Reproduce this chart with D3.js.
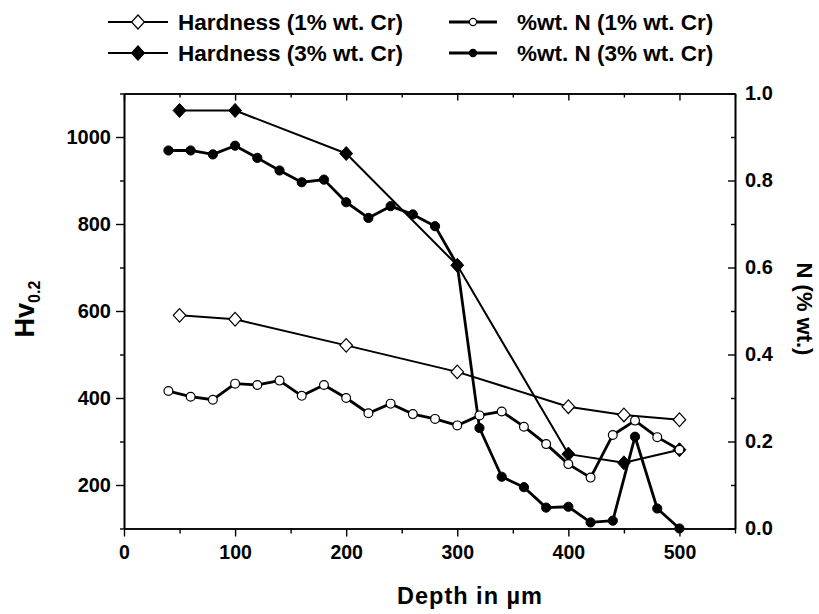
<!DOCTYPE html>
<html>
<head>
<meta charset="utf-8">
<script src="https://cdn.jsdelivr.net/npm/d3@7/dist/d3.min.js"></script>
<style>
  body { margin: 0; background: #fff; }
  text { font-family: "Liberation Sans", Arial, sans-serif; font-weight: bold; fill: #000; }
</style>
</head>
<body>
<script>
// hardness profiles (left axis)
const depthH = [50, 100, 200, 300, 400, 450, 500];
const hard1 = [590, 581, 521, 460, 380, 361, 350];
const hard3 = [1061, 1061, 962, 705, 271, 251, 281];

// nitrogen profiles (right axis)
const depthN = [40, 60, 80, 100, 120, 140, 160, 180, 200, 220, 240, 260,
                280, 300, 320, 340, 360, 380, 400, 420, 440, 460, 480, 500];
const nit1 = [0.316, 0.303, 0.296, 0.333, 0.330, 0.340, 0.305, 0.330, 0.300, 0.265, 0.287, 0.263,
              0.252, 0.237, 0.260, 0.269, 0.234, 0.194, 0.148, 0.117, 0.215, 0.248, 0.210, 0.181];
const nit3 = [0.869, 0.869, 0.860, 0.880, 0.852, 0.823, 0.796, 0.802, 0.750, 0.714, 0.741, 0.722,
              0.695, 0.606, 0.231, 0.119, 0.095, 0.048, 0.050, 0.014, 0.018, 0.211, 0.046, 0.000];

// ticks
const xMajor = [0, 100, 200, 300, 400, 500];
const xMinor = [50, 150, 250, 350, 450, 550];
const hvMajor = [200, 400, 600, 800, 1000];
const hvMinor = [100, 300, 500, 700, 900, 1100];
const nMajor = [0, 0.2, 0.4, 0.6, 0.8, 1.0];
const nMinor = [0.1, 0.3, 0.5, 0.7, 0.9];

const legendLabels = ["Hardness (1% wt. Cr)", "Hardness (3% wt. Cr)",
                      "%wt. N (1% wt. Cr)", "%wt. N (3% wt. Cr)"];

const w = 819, h = 614;
const pLeft = 124, pRight = 735, pTop = 93.5, pBottom = 528.5;

const svg = d3.select("body").append("svg")
  .attr("width", w)
  .attr("height", h);

const x = d3.scaleLinear().domain([0, 550]).range([pLeft, pRight]);
const yL = d3.scaleLinear().domain([100, 1100]).range([pBottom, pTop]);
const yR = d3.scaleLinear().domain([0, 1]).range([pBottom, pTop]);

// axes
function addAxis(axis, tx, ty, fs) {
  const g = svg.append("g")
    .attr("transform", "translate(" + tx + "," + ty + ")")
    .call(axis);
  g.selectAll("path.domain").attr("stroke", "#000").attr("stroke-width", 1.6);
  g.selectAll(".tick line").attr("stroke", "#000").attr("stroke-width", 1.4);
  g.selectAll(".tick text")
    .style("font-family", "'Liberation Sans', Arial, sans-serif")
    .style("font-weight", "bold")
    .style("font-size", (fs || 19) + "px")
    .attr("fill", "#000");
  return g;
}

addAxis(d3.axisBottom(x).tickValues(xMajor).tickSize(8).tickSizeOuter(0)
  .tickPadding(9).tickFormat(d3.format("d")), 0, pBottom, 19.5);
addAxis(d3.axisBottom(x).tickValues(xMinor).tickSize(5).tickSizeOuter(0).tickFormat(""), 0, pBottom);
addAxis(d3.axisTop(x).tickValues(xMajor).tickSize(-7).tickSizeOuter(0).tickFormat(""), 0, pTop);
addAxis(d3.axisTop(x).tickValues(xMinor).tickSize(-4).tickSizeOuter(0).tickFormat(""), 0, pTop);

addAxis(d3.axisLeft(yL).tickValues(hvMajor).tickSize(8).tickSizeOuter(0)
  .tickPadding(5).tickFormat(d3.format("d")), pLeft, 0, 20);
addAxis(d3.axisLeft(yL).tickValues(hvMinor).tickSize(4).tickSizeOuter(0).tickFormat(""), pLeft, 0);

addAxis(d3.axisRight(yR).tickValues(nMajor).tickSize(-7).tickSizeOuter(0)
  .tickPadding(10).tickFormat(d3.format(".1f")), pRight, 0, 20);
addAxis(d3.axisRight(yR).tickValues(nMinor).tickSize(-4).tickSizeOuter(0).tickFormat(""), pRight, 0);

// axis titles
svg.append("text")
  .attr("x", 470).attr("y", 604)
  .attr("text-anchor", "middle")
  .style("font-size", "23.5px")
  .style("letter-spacing", "1px")
  .text("Depth in µm");

const hv = svg.append("text")
  .attr("transform", "translate(34,309) rotate(-90)")
  .attr("text-anchor", "middle")
  .style("font-size", "27px");
hv.append("tspan").text("Hv");
hv.append("tspan").attr("dy", 6).style("font-size", "16px").text("0.2");

svg.append("text")
  .attr("transform", "translate(797,309) rotate(90)")
  .attr("text-anchor", "middle")
  .style("font-size", "22px")
  .text("N (% wt.)");

// markers
function diamond(s) {
  return "M0," + (-s) + "L" + (s * 0.92) + ",0L0," + s + "L" + (-s * 0.92) + ",0Z";
}

function drawSeries(xs, ys, yScale, lineW, marker, filled) {
  const pts = xs.map(function(d, i) { return [x(d), yScale(ys[i])]; });
  svg.append("path")
    .attr("d", d3.line()(pts))
    .attr("fill", "none")
    .attr("stroke", "#000")
    .attr("stroke-width", lineW)
    .attr("stroke-linejoin", "round");
  drawMarkers(svg, pts, marker, filled);
}

function drawMarkers(g, pts, marker, filled) {
  pts.forEach(function(p) {
    if (marker === "diamond") {
      g.append("path")
        .attr("transform", "translate(" + p[0] + "," + p[1] + ")")
        .attr("d", diamond(filled ? 7 : 6.8))
        .attr("fill", filled ? "#000" : "#fff")
        .attr("stroke", "#000")
        .attr("stroke-width", filled ? 1 : 1.2);
    } else {
      g.append("circle")
        .attr("cx", p[0]).attr("cy", p[1])
        .attr("r", filled ? 4.6 : 4.4)
        .attr("fill", filled ? "#000" : "#fff")
        .attr("stroke", "#000")
        .attr("stroke-width", filled ? 1 : 1.2);
    }
  });
}

drawSeries(depthH, hard1, yL, 2, "diamond", false);
drawSeries(depthH, hard3, yL, 2, "diamond", true);
drawSeries(depthN, nit3, yR, 2.8, "circle", true);
drawSeries(depthN, nit1, yR, 2.8, "circle", false);

// legend
const legendItems = [
  {lx: 108, ly: 22, len: 60, tx: 178, marker: "diamond", filled: false, lw: 2},
  {lx: 108, ly: 53, len: 60, tx: 178, marker: "diamond", filled: true, lw: 2},
  {lx: 449, ly: 22, len: 48, tx: 517, marker: "circle", filled: false, lw: 2.8},
  {lx: 449, ly: 53, len: 48, tx: 517, marker: "circle", filled: true, lw: 2.8}
];

legendItems.forEach(function(d, i) {
  const g = svg.append("g");
  g.append("line")
    .attr("x1", d.lx).attr("x2", d.lx + d.len)
    .attr("y1", d.ly).attr("y2", d.ly)
    .attr("stroke", "#000").attr("stroke-width", d.lw);
  const cx = d.lx + d.len / 2;
  if (d.marker === "diamond") {
    g.append("path")
      .attr("transform", "translate(" + cx + "," + d.ly + ")")
      .attr("d", diamond(7))
      .attr("fill", d.filled ? "#000" : "#fff")
      .attr("stroke", "#000").attr("stroke-width", 1.2);
  } else {
    g.append("circle")
      .attr("cx", cx).attr("cy", d.ly).attr("r", 3.6)
      .attr("fill", d.filled ? "#000" : "#fff")
      .attr("stroke", "#000").attr("stroke-width", 1.2);
  }
  g.append("text")
    .attr("x", d.tx)
    .attr("y", d.ly + 8)
    .style("font-size", "22.5px")
    .text(legendLabels[i]);
});
</script>
</body>
</html>
